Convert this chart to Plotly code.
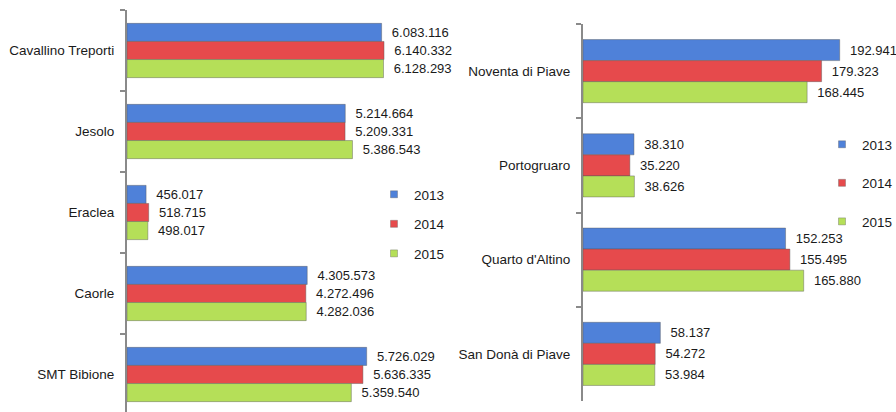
import plotly.graph_objects as go

years = ["2013", "2014", "2015"]
colors = ["#4f81d9", "#e64a4c", "#b5df58"]

left_cats = ["Cavallino Treporti", "Jesolo", "Eraclea", "Caorle", "SMT Bibione"]
left_2013 = [6083116, 5214664, 456017, 4305573, 5726029]
left_2014 = [6140332, 5209331, 518715, 4272496, 5636335]
left_2015 = [6128293, 5386543, 498017, 4282036, 5359540]

right_cats = ["Noventa di Piave", "Portogruaro", "Quarto d'Altino", "San Donà di Piave"]
right_2013 = [192941, 38310, 152253, 58137]
right_2014 = [179323, 35220, 155495, 54272]
right_2015 = [168445, 38626, 165880, 53984]

W, H = 896, 412
FONT = "Liberation Sans, Arial, sans-serif"

fig = go.Figure()

left_vals = [left_2013, left_2014, left_2015]
right_vals = [right_2013, right_2014, right_2015]

for i, yr in enumerate(years):
    fig.add_trace(go.Bar(
        y=left_cats, x=left_vals[i], orientation="h", name=yr,
        marker=dict(color=colors[i], line=dict(color="rgba(90,90,90,0.55)", width=0.8)),
        texttemplate="  %{x:,}", textposition="outside", cliponaxis=False,
        constraintext="none",
        textfont=dict(family=FONT, size=13, color="#1a1a1a"),
        xaxis="x", yaxis="y", showlegend=False, hoverinfo="skip"))
for i, yr in enumerate(years):
    fig.add_trace(go.Bar(
        y=right_cats, x=right_vals[i], orientation="h", name=yr,
        marker=dict(color=colors[i], line=dict(color="rgba(90,90,90,0.55)", width=0.8)),
        texttemplate="  %{x:,}", textposition="outside", cliponaxis=False,
        constraintext="none",
        textfont=dict(family=FONT, size=13, color="#1a1a1a"),
        xaxis="x2", yaxis="y2", showlegend=False, hoverinfo="skip"))

# legend entries
for i, yr in enumerate(years):
    fig.add_trace(go.Scatter(x=[None], y=[None], mode="markers", name=yr,
                             marker=dict(symbol="square", size=7, color=colors[i],
                                         line=dict(color="rgba(90,90,90,0.6)", width=0.6)),
                             legend="legend", legendgroup="L" + yr, xaxis="x", yaxis="y"))
for i, yr in enumerate(years):
    fig.add_trace(go.Scatter(x=[None], y=[None], mode="markers", name=yr,
                             marker=dict(symbol="square", size=7, color=colors[i],
                                         line=dict(color="rgba(90,90,90,0.6)", width=0.6)),
                             legend="legend2", legendgroup="R" + yr, xaxis="x2", yaxis="y2"))

axis_common = dict(
    type="category", showline=True, linecolor="#8a8a8a", linewidth=2,
    ticks="outside", ticklen=5, tickcolor="#8a8a8a", tickwidth=1.5,
    tickson="boundaries", showgrid=False, zeroline=False,
    tickfont=dict(family=FONT, size=13.5, color="#1a1a1a"),
    ticklabelstandoff=8, fixedrange=True,
)

fig.update_layout(
    width=W, height=H,
    margin=dict(l=0, r=0, t=0, b=0, autoexpand=False),
    paper_bgcolor="white", plot_bgcolor="white",
    separators=",.",
    barmode="group", bargap=0.33, bargroupgap=0,
    font=dict(family=FONT, size=13, color="#1a1a1a"),
    xaxis=dict(domain=[127 / W, 420 / W], range=[0, 7000000], visible=False, fixedrange=True),
    xaxis2=dict(domain=[583 / W, 889 / W], range=[0, 230000], visible=False, fixedrange=True),
    yaxis=dict(axis_common, domain=[0, (H - 10) / H], anchor="x",
               categoryarray=left_cats, categoryorder="array", range=[4.463, -0.5]),
    yaxis2=dict(axis_common, domain=[(H - 401) / H, (H - 24) / H], anchor="x2",
                categoryarray=right_cats, categoryorder="array", range=[3.5, -0.5]),
    legend=dict(x=374 / W, y=1 - 179 / H, xanchor="left", yanchor="top",
                xref="paper", yref="paper", traceorder="grouped", tracegroupgap=9,
                itemsizing="trace", bgcolor="rgba(0,0,0,0)",
                font=dict(family=FONT, size=13.5, color="#1a1a1a")),
    legend2=dict(x=822 / W, y=1 - 129 / H, xanchor="left", yanchor="top",
                 xref="paper", yref="paper", traceorder="grouped", tracegroupgap=18,
                 itemsizing="trace", bgcolor="rgba(0,0,0,0)",
                 font=dict(family=FONT, size=13.5, color="#1a1a1a")),
)

fig.write_html("out.html", config={"displayModeBar": False},
               post_script="document.body.style.margin='0';document.body.style.overflow='hidden';")
